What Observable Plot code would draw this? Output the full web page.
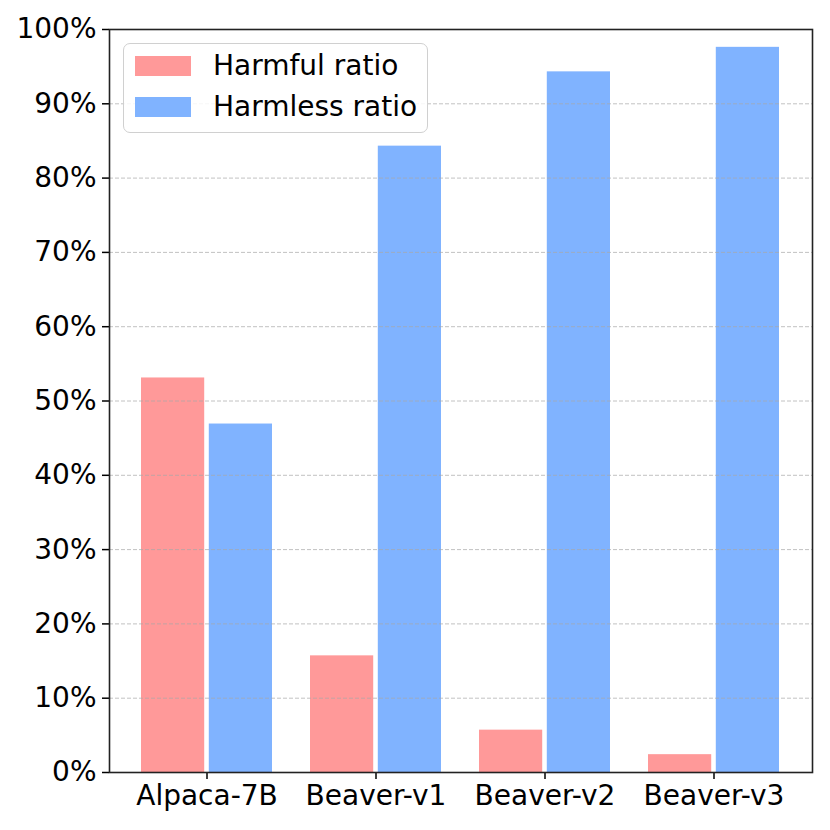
<!DOCTYPE html>
<html>
<head>
<meta charset="utf-8">
<script src="https://cdn.jsdelivr.net/npm/d3@7"></script>
<script src="https://cdn.jsdelivr.net/npm/@observablehq/plot@0.6"></script>
<style>
  html, body { margin: 0; padding: 0; background: white; }
  #wrap { position: relative; width: 830px; height: 830px; font-family: "DejaVu Sans", sans-serif; }
  #legend {
    position: absolute; left: 123px; top: 43px; width: 305px; height: 90px;
    border: 1.5px solid #d0d0d0; border-radius: 7px; background: rgba(255,255,255,0.85);
    box-sizing: border-box;
  }
  .row { position: absolute; left: 11px; display: flex; align-items: center; font-size: 28px; line-height: 32px; color: #000; }
  .sw { width: 56px; height: 20px; margin-right: 22px; }
</style>
</head>
<body>
<div id="wrap"></div>
<script>
const categories = ["Alpaca-7B", "Beaver-v1", "Beaver-v2", "Beaver-v3"];
const seriesNames = ["Harmful ratio", "Harmless ratio"];
const harmful = [0.531, 0.157, 0.057, 0.024];
const harmless = [0.469, 0.843, 0.943, 0.976];
const colors = ["#ff9999", "#80b3ff"];
const yTicks = [0, 0.1, 0.2, 0.3, 0.4, 0.5, 0.6, 0.7, 0.8, 0.9, 1.0];
const gridTicks = [0.1, 0.2, 0.3, 0.4, 0.5, 0.6, 0.7, 0.8, 0.9];

const W = 830, H = 830, ML = 109, MR = 18, MT = 29, MB = 58;
const padIn = 0.2, padOut = 0.174;
const step = (W - ML - MR) / (categories.length - padIn + 2 * padOut);
const half = step * (1 - padIn) / 2;
const gap = 2;

const harmfulData = categories.map((c, i) => ({cat: c, v: harmful[i]}));
const harmlessData = categories.map((c, i) => ({cat: c, v: harmless[i]}));

const chart = Plot.plot({
  width: W, height: H,
  marginLeft: ML, marginRight: MR, marginTop: MT, marginBottom: MB,
  style: {fontFamily: "DejaVu Sans, sans-serif", fontSize: "28px", color: "black", background: "white"},
  x: {domain: categories, paddingInner: padIn, paddingOuter: padOut, label: null},
  y: {domain: [0, 1], label: null},
  marks: [
    Plot.barY(harmfulData, {x: "cat", y: "v", fill: colors[0], insetLeft: gap, insetRight: half + gap}),
    Plot.barY(harmlessData, {x: "cat", y: "v", fill: colors[1], insetLeft: half + gap, insetRight: gap}),
    Plot.ruleY(gridTicks, {stroke: "#a8a8a8", strokeOpacity: 0.7, strokeWidth: 1, strokeDasharray: "4,2"}),
    Plot.axisY({ticks: yTicks, tickFormat: d => Math.round(d * 100) + "%", tickSize: 7, tickPadding: 6, label: null, fontSize: 28, stroke: "black", strokeWidth: 1.5}),
    Plot.axisX({tickSize: 7, tickPadding: 6, label: null, fontSize: 28, stroke: "black", strokeWidth: 1.5}),
    Plot.frame({stroke: "#222", strokeWidth: 1.6})
  ]
});

const wrap = document.getElementById("wrap");
wrap.appendChild(chart);

const legend = document.createElement("div");
legend.id = "legend";
seriesNames.forEach((name, i) => {
  const row = document.createElement("div");
  row.className = "row";
  row.style.top = (i === 0 ? 0 : 41.7) + 5.5 + "px";
  const sw = document.createElement("div");
  sw.className = "sw";
  sw.style.background = colors[i];
  const t = document.createElement("span");
  t.textContent = name;
  row.appendChild(sw);
  row.appendChild(t);
  legend.appendChild(row);
});
wrap.appendChild(legend);
</script>
</body>
</html>
